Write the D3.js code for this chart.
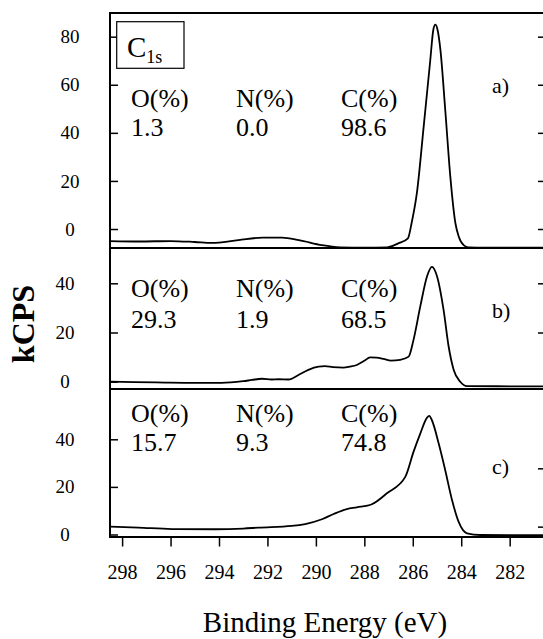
<!DOCTYPE html>
<html>
<head>
<meta charset="utf-8">
<script src="https://cdn.jsdelivr.net/npm/d3@7"></script>
<style>
  body { margin: 0; background: #fff; }
</style>
</head>
<body>
<svg id="chart" width="543" height="639"></svg>
<script>

// spectra: [binding energy (eV), kCPS]
var spectrumA = [[298.5,-5.0],[297.3,-5.2],[296.0,-5.0],[295.0,-5.4],[294.3,-5.8],[293.2,-4.6],[292.2,-3.6],
    [291.4,-3.6],[290.7,-4.6],[289.75,-6.7],[289.0,-7.6],[288.0,-7.8],[287.05,-7.6],[286.6,-6.0],[286.2,-3.9],
    [286.05,2.4],[285.83,15],[285.55,42.6],[285.28,70],[285.15,83],[285.07,85],[284.98,83],[284.86,74.6],
    [284.66,49.6],[284.45,21.8],[284.24,2.4],[284.1,-3.2],[283.9,-6.7],[283.7,-7.6],[283.0,-7.8],[280.5,-7.8]];

var spectrumB = [[298.5,0.0],[297.5,-0.2],[296.6,-0.3],[295.0,-0.5],[293.9,-0.5],[293.0,0.2],[292.64,0.7],
    [292.23,1.2],[291.82,0.9],[291.55,1.0],[291.13,0.9],[290.72,2.7],[290.31,4.8],[289.89,6.1],[289.62,6.3],
    [289.3,5.9],[288.86,5.7],[288.6,6.1],[288.31,6.8],[288.0,8.5],[287.76,9.9],[287.5,9.8],[287.21,9.3],
    [286.9,8.6],[286.52,8.9],[286.17,10.2],[285.97,17],[285.69,30.6],[285.41,42.9],[285.21,46.7],[285.0,42.9],
    [284.73,29.3],[284.52,14.3],[284.31,4.8],[284.04,0],[283.76,-1.8],[280.5,-1.9]];

var spectrumC = [[298.5,3.3],[297.33,2.9],[295.95,2.3],[294.16,2.2],[293.0,2.5],[292.37,2.9],[291.0,3.6],
    [290.44,4.4],[289.75,6.4],[289.27,8.6],[288.72,10.7],[288.31,11.4],[287.69,12.7],[287.07,17.3],
    [286.31,24.2],[285.97,34.7],[285.69,42.4],[285.41,49.1],[285.32,49.8],[285.21,48],[284.93,38.2],
    [284.66,27],[284.38,14.5],[284.11,5.4],[283.76,0.5],[283.21,-0.2],[280.5,-0.3]];

var composition = [
    { O: "1.3",  N: "0.0", C: "98.6", tag: "a)" },
    { O: "29.3", N: "1.9", C: "68.5", tag: "b)" },
    { O: "15.7", N: "9.3", C: "74.8", tag: "c)" }
];

var xTicks = [298, 296, 294, 292, 290, 288, 286, 284, 282];
var leftTicks = [[0, 20, 40, 60, 80], [0, 20, 40], [0, 20, 40]];
var rightTicks = [[0, 20, 40, 60, 80], [20, 40], [3.3, 27.8]];
var yDomains = [[-7.9, 89.85], [-2.97, 54.35], [-1.05, 61.13]];

const FONT = "'Liberation Serif', 'Times New Roman', Tinos, 'DejaVu Serif', serif";

var svg = d3.select("#chart").style("font-family", FONT);

const left = 110, right = 546;
const panelTops = [13, 248, 389];
const panelBottoms = [248, 389, 537];
const labelCenters = [70, 65, 65];
const textRows = [[107, 136], [297, 328], [422, 451]];
const tagBase = [93, 318, 474];

var xScale = d3.scaleLinear().domain([298.5, 280.5]).range([left, right]);

var line = d3.line()
    .x(function(d) { return xScale(d[0]); })
    .curve(d3.curveMonotoneX);

var spectra = [spectrumA, spectrumB, spectrumC];

spectra.forEach(function(data, i) {
    var yScale = d3.scaleLinear().domain(yDomains[i]).range([panelBottoms[i], panelTops[i]]);

    // left ticks (inward) with labels
    var yAxis = svg.append("g")
        .attr("transform", `translate(${left},0)`)
        .call(d3.axisRight(yScale).tickValues(leftTicks[i]).tickSize(8));
    yAxis.attr("font-family", null).attr("font-size", null);
    yAxis.select(".domain").remove();
    yAxis.selectAll("line").attr("stroke", "#000").attr("stroke-width", 1.5);
    yAxis.selectAll("text")
        .attr("x", labelCenters[i] - left)
        .attr("text-anchor", "middle")
        .attr("font-size", 19)
        .style("font-family", FONT)
        .attr("fill", "#000");

    // right ticks (inward), no labels
    var yRight = svg.append("g")
        .attr("transform", `translate(${right},0)`)
        .call(d3.axisLeft(yScale).tickValues(rightTicks[i]).tickSize(8).tickFormat(""));
    yRight.select(".domain").remove();
    yRight.selectAll("line").attr("stroke", "#000").attr("stroke-width", 1.5);

    // spectrum
    line.y(function(d) { return yScale(d[1]); });
    svg.append("path")
        .datum(data)
        .attr("fill", "none")
        .attr("stroke", "#000")
        .attr("stroke-width", 1.8)
        .attr("stroke-linejoin", "round")
        .attr("d", line);

    // composition text
    var comp = composition[i];
    var cols = [[131, "O(%)", comp.O], [236, "N(%)", comp.N], [341, "C(%)", comp.C]];
    cols.forEach(function(c) {
        svg.append("text").attr("x", c[0]).attr("y", textRows[i][0])
            .style("font-family", FONT).attr("font-size", 26).text(c[1]);
        svg.append("text").attr("x", c[0]).attr("y", textRows[i][1])
            .style("font-family", FONT).attr("font-size", 26).text(c[2]);
    });

    svg.append("text")
        .attr("x", 492)
        .attr("y", tagBase[i])
        .style("font-family", FONT)
        .attr("font-size", 22)
        .text(comp.tag);
});

// frame and panel separators
svg.append("rect")
    .attr("x", left).attr("y", panelTops[0])
    .attr("width", right - left).attr("height", panelBottoms[2] - panelTops[0])
    .attr("fill", "none").attr("stroke", "#000").attr("stroke-width", 2);

[248, 389].forEach(function(y) {
    svg.append("line")
        .attr("x1", left).attr("x2", right)
        .attr("y1", y).attr("y2", y)
        .attr("stroke", "#000").attr("stroke-width", 2.2);
});

// x axis
var xAxis = svg.append("g")
    .attr("transform", `translate(0,${panelBottoms[2]})`)
    .call(d3.axisBottom(xScale).tickValues(xTicks).tickSize(9.5).tickPadding(18.5).tickFormat(d3.format("d")));
xAxis.select(".domain").remove();
xAxis.selectAll("line").attr("stroke", "#000").attr("stroke-width", 1.5);
xAxis.selectAll("text")
    .attr("font-size", 20)
    .style("font-family", FONT)
    .attr("fill", "#000");

// C1s box
svg.append("rect")
    .attr("x", 116.7).attr("y", 21.7)
    .attr("width", 67.3).attr("height", 46.6)
    .attr("fill", "#fff").attr("stroke", "#000").attr("stroke-width", 1.2);

var c1s = svg.append("text").attr("x", 127).attr("y", 57)
    .style("font-family", FONT).attr("font-size", 29);
c1s.append("tspan").text("C");
c1s.append("tspan").attr("font-size", 18).attr("dy", 6).text("1s");

// axis titles
svg.append("text")
    .attr("x", 325)
    .attr("y", 632)
    .attr("text-anchor", "middle")
    .style("font-family", FONT)
    .attr("font-size", 29)
    .text("Binding Energy (eV)");

svg.append("text")
    .attr("transform", "translate(34,324) rotate(-90)")
    .attr("text-anchor", "middle")
    .style("font-family", FONT)
    .attr("font-size", 32)
    .attr("font-weight", "bold")
    .text("kCPS");

</script>
</body>
</html>
